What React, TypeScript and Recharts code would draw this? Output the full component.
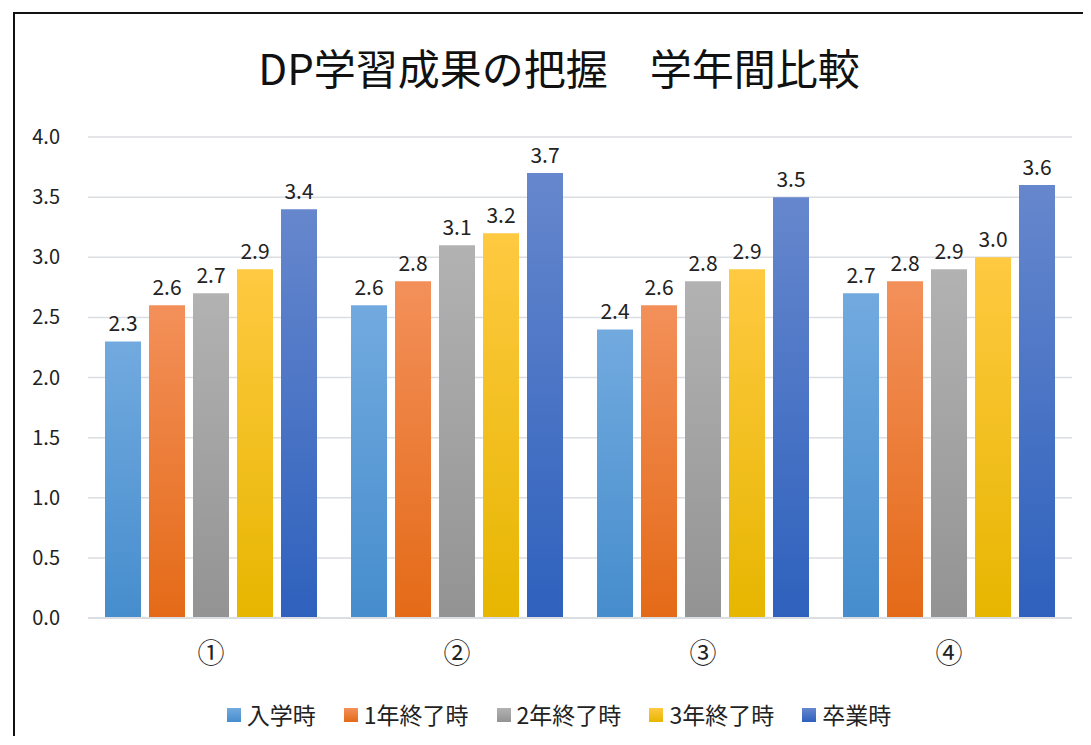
import React from "react";
import { BarChart, Bar, XAxis, YAxis, CartesianGrid, LabelList, Legend } from "recharts";

const categories = ["①", "②", "③", "④"];
const seriesNames = ["入学時", "1年終了時", "2年終了時", "3年終了時", "卒業時"];
const entry = [2.3, 2.6, 2.4, 2.7];
const year1 = [2.6, 2.8, 2.6, 2.8];
const year2 = [2.7, 3.1, 2.8, 2.9];
const year3 = [2.9, 3.2, 2.9, 3.0];
const graduation = [3.4, 3.7, 3.5, 3.6];
const yTicks = [0, 0.5, 1, 1.5, 2, 2.5, 3, 3.5, 4];
const title = "DP学習成果の把握　学年間比較";

const seriesValues = [entry, year1, year2, year3, graduation];
const gradients: [string, string][] = [
  ["#72aadf", "#468dcd"],
  ["#f3905a", "#e46a17"],
  ["#b2b2b2", "#939393"],
  ["#ffc941", "#e6b600"],
  ["#6687cd", "#2e61bd"],
];

const data = categories.map((c, i) => {
  const row: Record<string, string | number> = { name: c };
  seriesNames.forEach((s, j) => {
    row[s] = seriesValues[j][i];
  });
  return row;
});

const FONT = "'Noto Sans CJK JP', 'Noto Sans', sans-serif";

const renderLegend = () => {
  return (
    <div style={{ height: 0, overflow: "visible" }}>
      <div
        style={{
          display: "flex",
          justifyContent: "center",
          alignItems: "center",
          fontFamily: FONT,
          fontSize: 23,
          lineHeight: 1,
          color: "#222",
          whiteSpace: "nowrap",
        }}
      >
        {seriesNames.map((name, i) => {
          const g = gradients[i];
          return (
            <div
              key={name}
              style={{ display: "flex", alignItems: "center", marginLeft: i === 0 ? 0 : 28 }}
            >
              <span
                style={{
                  display: "inline-block",
                  width: 14,
                  height: 14,
                  marginRight: 6,
                  background: `linear-gradient(to bottom, ${g[0]}, ${g[1]})`,
                }}
              />
              <span>{name}</span>
            </div>
          );
        })}
      </div>
    </div>
  );
};

export default function App() {
  const W = 1102;
  const H = 729;
  return (
    <div style={{ position: "relative", width: 1075, height: 728, overflow: "hidden", background: "#fff" }}>
      <div
        style={{
          position: "absolute",
          left: 5,
          top: 4,
          width: 1300,
          height: 900,
          borderLeft: "2px solid #111",
          borderTop: "2px solid #111",
        }}
      />
      <div
        style={{
          position: "absolute",
          left: 0,
          top: 38,
          width: W,
          textAlign: "center",
          fontFamily: FONT,
          fontSize: 42,
          lineHeight: 1,
          color: "#111",
          whiteSpace: "pre",
        }}
      >
        {title}
      </div>
      <div style={{ position: "absolute", left: 0, top: 0 }}>
        <BarChart
          width={W}
          height={H}
          data={data}
          margin={{ top: 129, right: 38, bottom: 69, left: 0 }}
          barCategoryGap={17}
          barGap={8}
        >
          <defs>
            {gradients.map((g, i) => (
              <linearGradient key={i} id={`grad${i}`} x1="0" y1="0" x2="0" y2="1">
                <stop offset="0%" stopColor={g[0]} />
                <stop offset="100%" stopColor={g[1]} />
              </linearGradient>
            ))}
          </defs>
          <CartesianGrid vertical={false} stroke="#dadde2" strokeWidth={1.5} />
          <XAxis
            dataKey="name"
            height={50}
            axisLine={{ stroke: "#dadde2", strokeWidth: 2 }}
            tickLine={false}
            tickSize={0}
            tickMargin={26}
            tick={{ fill: "#222", fontSize: 27, fontFamily: FONT }}
          />
          <YAxis
            width={80}
            domain={[0, 4]}
            ticks={yTicks}
            interval={0}
            axisLine={false}
            tickLine={false}
            tickSize={0}
            tickMargin={28}
            tickFormatter={(v: number) => v.toFixed(1)}
            tick={{ fill: "#222", fontSize: 20, fontFamily: FONT }}
          />
          <Legend
            verticalAlign="bottom"
            align="center"
            content={renderLegend}
            wrapperStyle={{ top: 695, left: 0, width: W, height: 0 }}
          />
          {seriesNames.map((s, i) => (
            <Bar key={s} dataKey={s} fill={`url(#grad${i})`} isAnimationActive={false}>
              <LabelList
                dataKey={s}
                position="top"
                offset={10}
                formatter={(v: any) => Number(v).toFixed(1)}
                style={{ fill: "#222", fontSize: 21, fontFamily: FONT }}
              />
            </Bar>
          ))}
        </BarChart>
      </div>
    </div>
  );
}
